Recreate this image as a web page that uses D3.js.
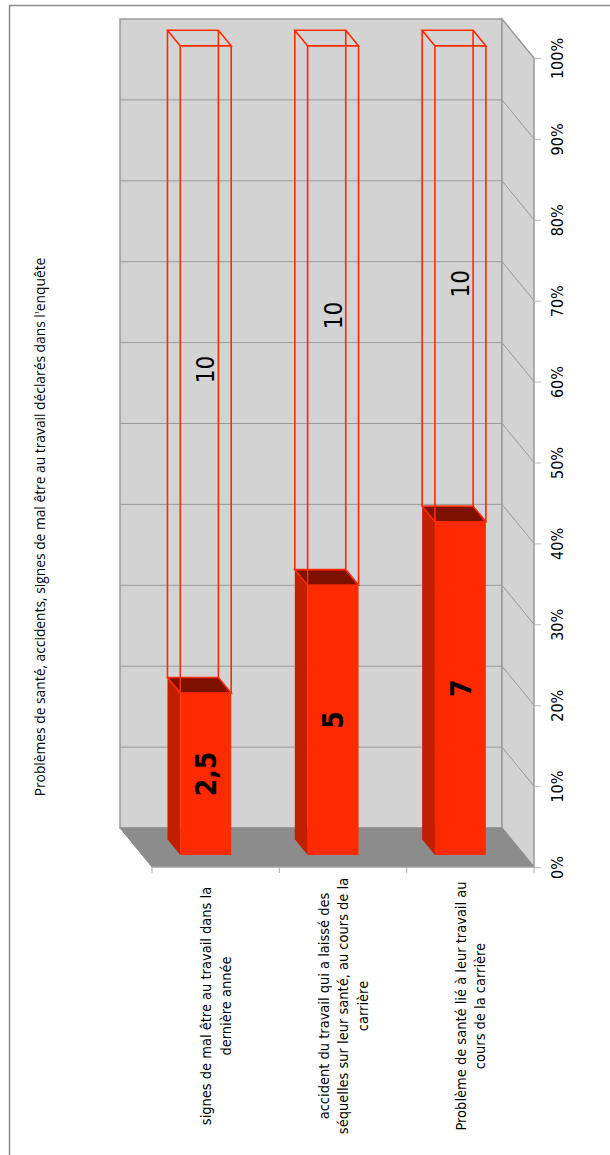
<!DOCTYPE html>
<html>
<head>
<meta charset="utf-8">
<script src="https://cdn.jsdelivr.net/npm/d3@7"></script>
<style>
  body { margin: 0; background: #fff; }
  text { font-family: "DejaVu Sans Condensed", "DejaVu Sans", sans-serif; fill: #000; }
  .title { font-family: "Open Sans", sans-serif; font-size: 13.8px; }
</style>
</head>
<body>
<svg id="chart" width="610" height="1155"></svg>
<script>
const title = "Problèmes de santé, accidents, signes de mal être au travail déclarés dans l'enquête";
const categories = [
  "signes de mal être au travail dans la dernière année",
  "accident du travail qui a laissé des séquelles sur leur santé, au cours de la carrière",
  "Problème de santé lié à leur travail au cours de la carrière",
];
const categoryLines = [
  ["signes de mal être au travail dans la", "dernière année"],
  ["accident du travail qui a laissé des", "séquelles sur leur santé, au cours de la", "carrière"],
  ["Problème de santé lié à leur travail au", "cours de la carrière"],
];
const declared = [2.5, 5, 7];
const others = [10, 10, 10];
const valueTicks = [0, 0.1, 0.2, 0.3, 0.4, 0.5, 0.6, 0.7, 0.8, 0.9, 1];

const svg = d3.select('#chart');

// page frame
svg.append('path')
  .attr('d', 'M9.5,1155V5.5H610')
  .attr('fill', 'none')
  .attr('stroke', '#8a8a8a')
  .attr('stroke-width', 1.5);

const front = { left: 152, right: 534, bottom: 867, top: 58 };
const depth = { x: 32, y: 39 };
const bar = { near: 0.31, far: 0.71, offset: 0.3, width: 0.4 };

const x = d3.scaleBand().domain(categories).range([front.left, front.right]);
const y = d3.scaleLinear().domain([0, 1]).range([front.bottom, front.top]);

// projected point: front-plane x, value, depth (0 = front, 1 = back wall)
const p = (px, v, d) => [px - depth.x * d, y(v) - depth.y * d];
const poly = (pts) => 'M' + pts.map((q) => q.join(',')).join('L') + 'Z';

const fr = d3.formatLocale({ decimal: ',', thousands: ' ', grouping: [3], currency: ['', '€'] });
const fmt = fr.format('~g');

// walls
const walls = svg.append('g').attr('class', 'walls');
walls.append('path')
  .attr('d', poly([p(front.left, 0, 1), p(front.right, 0, 1), p(front.right, 1, 1), p(front.left, 1, 1)]))
  .attr('fill', '#d3d3d3')
  .attr('stroke', '#9a9a9a')
  .attr('stroke-width', 1.5);
walls.append('path')
  .attr('d', poly([p(front.right, 0, 1), p(front.right, 1, 1), p(front.right, 1, 0), p(front.right, 0, 0)]))
  .attr('fill', '#d3d3d3')
  .attr('stroke', '#9a9a9a')
  .attr('stroke-width', 1.5);

// gridlines on back wall and side wall
walls.selectAll('.grid')
  .data(valueTicks.slice(1, -1))
  .join('path')
  .classed('grid', true)
  .attr('d', (t) => 'M' + [p(front.left, t, 1), p(front.right, t, 1), p(front.right, t, 0)].map((q) => q.join(',')).join('L'))
  .attr('fill', 'none')
  .attr('stroke', '#9a9a9a')
  .attr('stroke-width', 1);

// floor
walls.append('path')
  .attr('d', poly([p(front.left, 0, 1), p(front.right, 0, 1), p(front.right, 0, 0), p(front.left, 0, 0)]))
  .attr('fill', '#8c8c8c')
  .attr('stroke', '#8c8c8c')
  .attr('stroke-width', 1);

// stacked 100% data
const rows = categories.map((c, i) => ({ cat: c, declared: declared[i], others: others[i] }));
const series = d3.stack().keys(['declared', 'others']).offset(d3.stackOffsetExpand)(rows);

const bw = x.bandwidth();
const bx0 = (d) => x(d.data.cat) + bw * bar.offset;
const bx1 = (d) => bx0(d) + bw * bar.width;

// solid segment
const solid = svg.append('g').attr('class', 'bars-solid')
  .selectAll('g')
  .data(series[0])
  .join('g');
solid.append('path')
  .attr('d', (d) => poly([p(bx0(d), d[0], bar.near), p(bx0(d), d[1], bar.near), p(bx0(d), d[1], bar.far), p(bx0(d), d[0], bar.far)]))
  .attr('fill', '#c21e00');
solid.append('path')
  .attr('d', (d) => poly([p(bx0(d), d[1], bar.near), p(bx1(d), d[1], bar.near), p(bx1(d), d[1], bar.far), p(bx0(d), d[1], bar.far)]))
  .attr('fill', '#7e1000')
  .attr('stroke', '#ff2a00')
  .attr('stroke-width', 1);
solid.append('path')
  .attr('d', (d) => poly([p(bx0(d), d[0], bar.near), p(bx1(d), d[0], bar.near), p(bx1(d), d[1], bar.near), p(bx0(d), d[1], bar.near)]))
  .attr('fill', '#ff2a00');

// wireframe segment
svg.append('g').attr('class', 'bars-wire')
  .selectAll('path')
  .data(series[1])
  .join('path')
  .attr('d', (d) => {
    const a = bx0(d), b = bx1(d);
    const edges = [];
    [d[0], d[1]].forEach((v) => {
      edges.push(poly([p(a, v, bar.near), p(b, v, bar.near), p(b, v, bar.far), p(a, v, bar.far)]));
    });
    [[a, bar.near], [b, bar.near], [a, bar.far], [b, bar.far]].forEach(([px, dd]) => {
      edges.push('M' + p(px, d[0], dd).join(',') + 'L' + p(px, d[1], dd).join(','));
    });
    return edges.join('');
  })
  .attr('fill', 'none')
  .attr('stroke', '#ff2a00')
  .attr('stroke-width', 1.6);

// data labels
const labelPos = (d) => {
  const cx = (bx0(d) + bx1(d)) / 2 - depth.x * bar.near;
  const cy = y((d[0] + d[1]) / 2) - depth.y * bar.near;
  return `translate(${cx},${cy}) rotate(-90)`;
};
svg.append('g').selectAll('text')
  .data(series[0])
  .join('text')
  .attr('transform', labelPos)
  .attr('text-anchor', 'middle')
  .attr('dy', '0.36em')
  .style('font-size', '28px')
  .style('font-weight', 'bold')
  .text((d) => fmt(d.data.declared));
svg.append('g').selectAll('text')
  .data(series[1])
  .join('text')
  .attr('transform', labelPos)
  .attr('text-anchor', 'middle')
  .attr('dy', '0.36em')
  .style('font-size', '24px')
  .text((d) => fmt(d.data.others));

// value axis
const yAxis = svg.append('g')
  .attr('transform', `translate(${front.right},0)`)
  .call(d3.axisRight(y).tickValues(valueTicks).tickSize(7).tickFormat(d3.format('.0%')));
yAxis.select('.domain').remove();
yAxis.selectAll('.tick line').attr('stroke', '#bbb');
yAxis.selectAll('.tick text')
  .attr('x', 0)
  .attr('y', 29)
  .attr('dy', null)
  .attr('transform', 'rotate(-90)')
  .attr('text-anchor', 'middle')
  .attr('font-family', null)
  .attr('font-size', null)
  .style('font-size', '16px');

// category axis
const xAxis = svg.append('g');
xAxis.append('line')
  .attr('x1', front.left).attr('x2', front.right)
  .attr('y1', front.bottom).attr('y2', front.bottom)
  .attr('stroke', '#aaa');
xAxis.selectAll('.xtick')
  .data(categories.map((c) => x(c)).concat([front.right]))
  .join('line')
  .classed('xtick', true)
  .attr('x1', (d) => d).attr('x2', (d) => d)
  .attr('y1', front.bottom).attr('y2', front.bottom + 6)
  .attr('stroke', '#aaa');

const lineGap = 19.5;
xAxis.selectAll('.xlabel')
  .data(categories)
  .join('g')
  .classed('xlabel', true)
  .each(function (c, i) {
    const lines = categoryLines[i];
    const cx = x(c) + bw / 2;
    d3.select(this).selectAll('text')
      .data(lines)
      .join('text')
      .attr('transform', (l, j) => `translate(${cx + (j - (lines.length - 1) / 2) * lineGap},1006) rotate(-90)`)
      .attr('text-anchor', 'middle')
      .attr('dy', '0.36em')
      .style('font-size', '14.5px')
      .text((l) => l);
  });

// title
svg.append('text')
  .attr('class', 'title')
  .attr('transform', 'translate(40,527) rotate(-90)')
  .attr('text-anchor', 'middle')
  .attr('dy', '0.36em')
  .text(title);
</script>
</body>
</html>
